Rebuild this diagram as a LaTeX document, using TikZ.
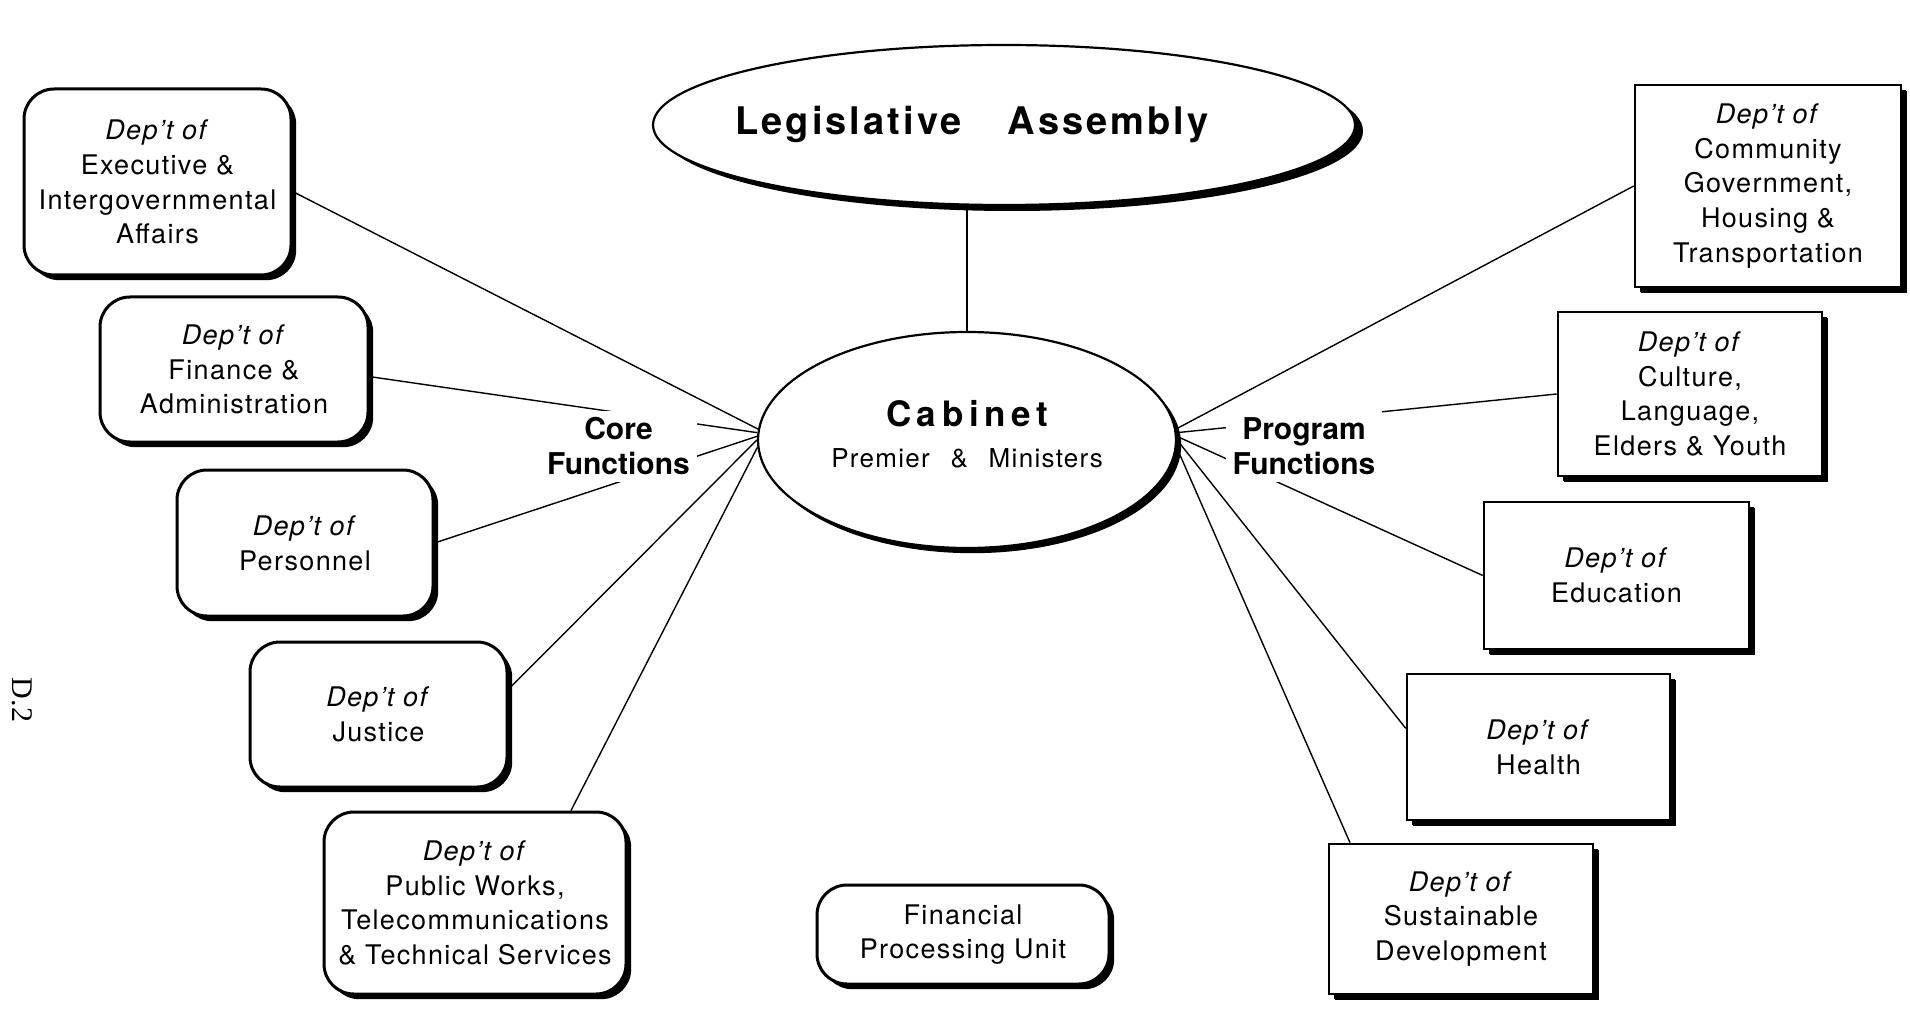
\documentclass[tikz,border=0pt]{standalone}
\usepackage{fontspec}
\setmainfont{TeX Gyre Heros}
\newfontfamily\deptfont[LetterSpace=5]{TeX Gyre Heros}
\newfontfamily\headfont[LetterSpace=8]{TeX Gyre Heros}
\newfontfamily\cabfont[LetterSpace=16]{TeX Gyre Heros}
\newfontfamily\subfont[LetterSpace=5]{TeX Gyre Heros}
\newfontfamily\pagefont{Liberation Serif}
\usepackage{tikz}
\usetikzlibrary{shapes.geometric,shadows}
\newcommand{\dep}{\textit{Dep’t of}}

\begin{document}
\begin{tikzpicture}[x=0.5pt, y=-0.5pt,
      every node/.style={align=center},
      dept/.style={draw, fill=white, line width=1.5pt, inner sep=2pt,
        font=\deptfont\fontsize{13.5}{17.4}\selectfont,
        drop shadow={shadow xshift=2.6pt, shadow yshift=-2.6pt, fill=black, opacity=1}},
      corebox/.style={dept, rounded corners=15pt},
      progbox/.style={dept, line width=1.3pt,
        drop shadow={shadow xshift=2.8pt, shadow yshift=-2.8pt, fill=black, opacity=1}},
      house/.style={ellipse, draw, fill=white, line width=1.1pt, inner sep=0pt},
      fnlabel/.style={fill=white, inner sep=3.5pt, font=\bfseries\fontsize{15}{17.5}\selectfont},
      link/.style={line width=0.7pt}
  ]
    \useasboundingbox (0,0) rectangle (1910,1010);

    \node[house, minimum width=351pt, minimum height=80pt,
      drop shadow={shadow xshift=4pt, shadow yshift=-3pt, fill=black, opacity=1},
      font=\headfont\bfseries\fontsize{19}{22}\selectfont] (leg) at (1004,125)
      {\makebox[237pt]{\hspace{-32pt}Legislative\hspace{23pt}Assembly}};
    \node[house, minimum width=209pt, minimum height=108pt,
      drop shadow={shadow xshift=2.6pt, shadow yshift=-2.6pt, fill=black, opacity=1},
      font=\subfont\fontsize{13}{20.5}\selectfont] (cab) at (967,440)
      {{\cabfont\bfseries\fontsize{17.5}{20.5}\selectfont Cabinet}\\Premier\hspace{0.8em}\&\hspace{0.8em}Ministers\\[-14pt]\mbox{}};

    \node[corebox, minimum width=133.5pt, minimum height=93pt] (exec) at (157.5,182) {\dep\\Executive \&\\Intergovernmental\\Affairs};
    \node[corebox, minimum width=134pt, minimum height=72.5pt] (fin) at (234,369.5) {\dep\\Finance \&\\Administration};
    \node[corebox, minimum width=128pt, minimum height=73pt] (pers) at (305,543) {\dep\\Personnel};
    \node[corebox, minimum width=128.5pt, minimum height=72.5pt] (just) at (378.5,714.5) {\dep\\Justice};
    \node[corebox, minimum width=151pt, minimum height=91pt] (works) at (475,903) {\dep\\Public Works,\\Telecommunications\\\& Technical Services};
    \node[corebox, minimum width=146pt, minimum height=49.5pt] (fpu) at (963,934.5) {Financial\\Processing Unit};

    \node[progbox, minimum width=133pt, minimum height=101pt] (comm) at (1768,186) {\dep\\Community\\Government,\\Housing \&\\Transportation};
    \node[progbox, minimum width=132pt, minimum height=82pt] (cult) at (1690,394) {\dep\\Culture,\\Language,\\Elders \& Youth};
    \node[progbox, minimum width=132.5pt, minimum height=73.5pt] (edu) at (1616.5,575.5) {\dep\\Education};
    \node[progbox, minimum width=131.5pt, minimum height=73pt] (hlth) at (1538.5,747) {\dep\\Health};
    \node[progbox, minimum width=132pt, minimum height=75pt] (sust) at (1461,919) {\dep\\Sustainable\\Development};

    \node[rotate=-90, font=\pagefont\fontsize{15}{15}\selectfont] (page) at (22,700) {D.2};

    \draw[link] (cab.north) -- (cab.north |- leg.south);
    \draw[link] (exec.-4) -- (cab.177);
    \draw[link] (fin.-3) -- (cab.178);
    \draw[link] (pers.east) -- (cab.179);
    \draw[link] (just.11) -- (cab.180);
    \draw[link] ([xshift=48pt]works.north) -- (cab.182);
    \draw[link] (comm.west) -- (cab.3);
    \draw[link] (cult.west) -- (cab.2);
    \draw[link] (edu.west) -- (cab.1);
    \draw[link] (hlth.172) -- (cab.0);
    \draw[link] ([xshift=-55.5pt]sust.north) -- (cab.-2);

    \node[fnlabel] (corefn) at (618.5,446.5) {Core\\Functions};
    \node[fnlabel] (progfn) at (1304,446) {Program\\Functions};
  \end{tikzpicture}
\end{document}
